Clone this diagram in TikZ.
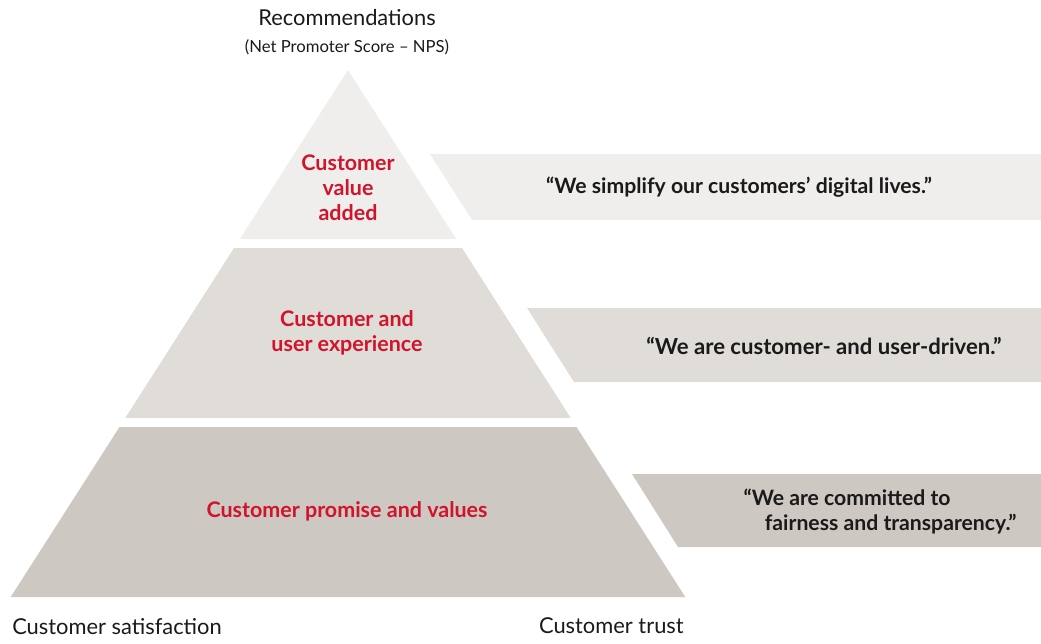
\documentclass[tikz,border=0pt]{standalone}
\usepackage{fontspec}
\setmainfont{Lato}
\definecolor{bandA}{HTML}{EFEEEC}
\definecolor{bandB}{HTML}{E0DCD8}
\definecolor{bandC}{HTML}{CDC8C2}
\definecolor{redtxt}{HTML}{D0142C}
\definecolor{blacktxt}{HTML}{1A1A1A}
\tikzset{
  lbl/.style={text=redtxt,font=\fontsize{16.1}{18.75}\selectfont\bfseries,align=center,inner sep=0pt},
  quote/.style={text=blacktxt,font=\fontsize{15.9}{18.75}\selectfont\bfseries,align=center,inner sep=0pt},
  plain/.style={text=blacktxt,font=\fontsize{16.4}{19}\selectfont,inner sep=0pt},
}
\begin{document}
\begin{tikzpicture}[x=0.75pt,y=-0.75pt]
\useasboundingbox (0,0) rectangle (1041,643);
% pyramid bands: apex (348,70), slope 0.64
\fill[bandA] (348,70) -- (456.2,239) -- (239.8,239) -- cycle;
\fill[bandB] (234,248) -- (462,248) -- (570.7,418) -- (125.3,418) -- cycle;
\fill[bandC] (119.5,427) -- (576.5,427) -- (685.3,597) -- (10.7,597) -- cycle;
% banners
\fill[bandA] (430,154) -- (1041,154) -- (1041,220) -- (472,220) -- cycle;
\fill[bandB] (527,308) -- (1041,308) -- (1041,382) -- (574,382) -- cycle;
\fill[bandC] (632,474) -- (1041,474) -- (1041,547) -- (678,547) -- cycle;
% texts
\node[plain] (rec) at (347,18) {Recommendations};
\node[plain,font=\fontsize{12.5}{14}\selectfont] (nps) at (347,47) {(Net Promoter Score – NPS)};
\node[lbl] (l1) at (348,188) {Customer\\value\\added};
\node[lbl] (l2) at (347,333) {Customer and\\user experience};
\node[lbl] (l3) at (347,511) {Customer promise and values};
\node[quote] (q1) at (739,187) {“We simplify our customers’ digital lives.”};
\node[quote,font=\fontsize{16.6}{18.75}\selectfont\bfseries] (q2) at (824,346) {“We are customer- and user-driven.”};
\node[quote,align=left] (q3) at (880,511) {“We are committed to\\\hspace*{1.0em}fairness and transparency.”};
\node[plain,anchor=west] (sat) at (12,627) {Customer satisfaction};
\node[plain,anchor=east] (trust) at (684,626) {Customer trust};
\end{tikzpicture}
\end{document}
